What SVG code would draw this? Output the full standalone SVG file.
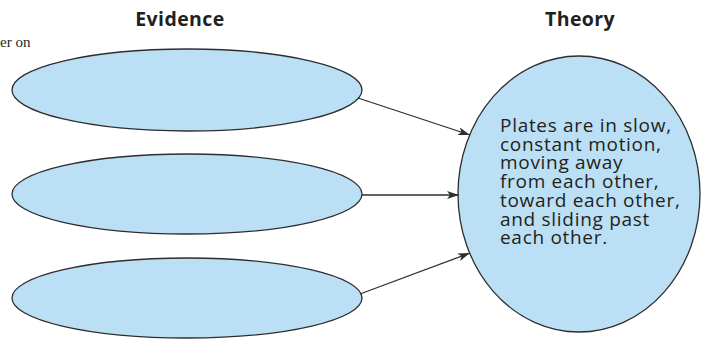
<svg xmlns="http://www.w3.org/2000/svg" width="702" height="339" viewBox="0 0 702 339">
<style>
.ev{fill:#bbdff5;stroke:#2e2e2e;stroke-width:1.3}
.hd{font-family:"Open Sans","Liberation Sans",sans-serif;font-weight:bold;font-size:19.5px;letter-spacing:0.4px;fill:#231f20;text-anchor:middle}
.bd{font-family:"Open Sans","Liberation Sans",sans-serif;font-size:19px;letter-spacing:0.7px;fill:#231f20}
.cn{stroke:#2e2e2e;stroke-width:1.3;fill:none;marker-end:url(#ah)}
</style>
<defs>
<marker id="ah" viewBox="0 0 12 8" refX="12" refY="4" markerWidth="12" markerHeight="8" markerUnits="userSpaceOnUse" orient="auto">
<path d="M0,0 L12,4 L0,8 L3,4 Z" fill="#2e2e2e"/>
</marker>
</defs>
<rect width="702" height="339" fill="#ffffff"/>
<text x="0" y="47" font-family="Liberation Serif,serif" font-size="15" fill="#231f20">er on</text>
<text class="hd" x="180" y="26">Evidence</text>
<text class="hd" x="580" y="26">Theory</text>
<g id="evidence1"><ellipse class="ev" cx="187" cy="90" rx="175" ry="41"/></g>
<g id="evidence2"><ellipse class="ev" cx="187" cy="194" rx="175" ry="40"/></g>
<g id="evidence3"><ellipse class="ev" cx="187" cy="298" rx="175" ry="40"/></g>
<g id="theory">
<ellipse class="ev" cx="579" cy="194" rx="121" ry="138"/>
<text class="bd"><tspan x="500" y="132">Plates are in slow,</tspan><tspan x="500" y="150.7">constant motion,</tspan><tspan x="500" y="169.4">moving away</tspan><tspan x="500" y="188.1">from each other,</tspan><tspan x="500" y="206.8">toward each other,</tspan><tspan x="500" y="225.5">and sliding past</tspan><tspan x="500" y="244.2">each other.</tspan></text>
</g>
<g id="connectors">
<line class="cn" x1="358" y1="98" x2="470" y2="135"/>
<line class="cn" x1="362" y1="195" x2="459" y2="195"/>
<line class="cn" x1="360" y1="294" x2="470" y2="253"/>
</g>
</svg>
